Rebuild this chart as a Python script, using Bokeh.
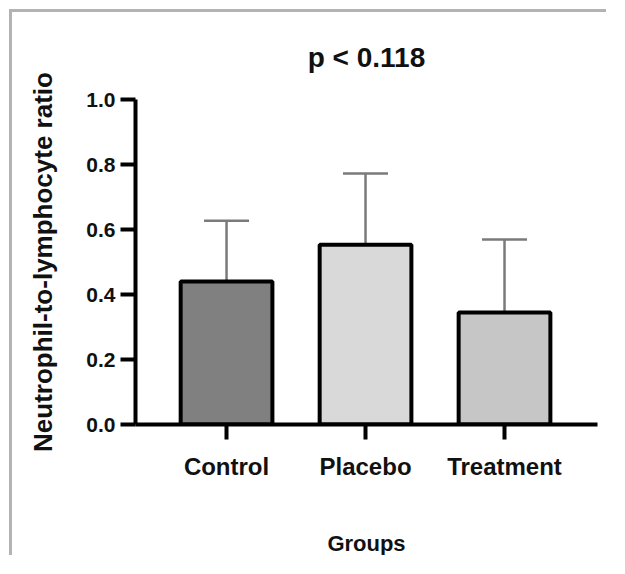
from bokeh.plotting import figure
from bokeh.models import Range1d, FixedTicker, PrintfTickFormatter, Whisker, TeeHead, ColumnDataSource
from bokeh.embed import file_html
from bokeh.resources import INLINE

# ---- data ----
groups = ["Control", "Placebo", "Treatment"]
means = [0.44, 0.553, 0.345]
sds = [0.187, 0.219, 0.224]
colors = ["#808080", "#d9d9d9", "#c6c6c6"]
y_ticks = [0.0, 0.2, 0.4, 0.6, 0.8, 1.0]
title_text = "p < 0.118"
y_label = "Neutrophil-to-lymphocyte ratio"
x_label = "Groups"

FONT = "Liberation Sans, Arial, Helvetica, sans-serif"
xs = list(range(len(groups)))
uppers = [m + s for m, s in zip(means, sds)]
src = ColumnDataSource(dict(x=xs, top=means, upper=uppers, color=colors))

p = figure(width=597, height=546, output_backend="svg", toolbar_location=None,
           x_range=Range1d(-0.655, 2.669), y_range=Range1d(0, 1.0),
           min_border_left=123, min_border_right=12, min_border_top=87,
           min_border_bottom=130)
p.styles = {"margin-left": "9px", "margin-top": "9px",
            "border-left": "3px solid #b3b3b3", "border-top": "3px solid #b3b3b3"}
p.outline_line_color = None
p.grid.visible = False
p.background_fill_color = "white"
p.border_fill_color = "white"

# error bars (upper only), drawn under the bars
w = Whisker(source=src, base="x", lower="top", upper="upper", dimension="height",
            line_color="#7a7a7a", line_width=2.5, level="underlay",
            upper_head=TeeHead(size=45, line_color="#7a7a7a", line_width=2.5),
            lower_head=None)
p.add_layout(w)

p.vbar(x="x", top="top", width=0.66, bottom=0, source=src, fill_color="color",
       line_color="black", line_width=4)

# title
p.title.text = title_text
p.title.align = "center"
p.title.text_font = FONT
p.title.text_font_size = "28px"
p.title.text_font_style = "bold"
p.title.text_color = "#111111"
p.title.standoff = 53

# x axis
xa = p.xaxis[0]
xa.ticker = FixedTicker(ticks=xs)
xa.major_label_overrides = {i: g for i, g in zip(xs, groups)}
xa.axis_line_width = 4
xa.major_tick_line_width = 4
xa.major_tick_out = 15
xa.major_tick_in = 0
xa.minor_tick_line_color = None
xa.major_label_standoff = 13
xa.major_label_text_font = FONT
xa.major_label_text_font_size = "24px"
xa.major_label_text_font_style = "bold"
xa.major_label_text_color = "#111111"
xa.axis_label = x_label
xa.axis_label_text_font = FONT
xa.axis_label_text_font_size = "22px"
xa.axis_label_text_font_style = "bold"
xa.axis_label_text_color = "#111111"
xa.axis_label_standoff = 48

# y axis
ya = p.yaxis[0]
ya.ticker = FixedTicker(ticks=y_ticks)
ya.formatter = PrintfTickFormatter(format="%.1f")
ya.axis_line_width = 4
ya.major_tick_line_width = 4
ya.major_tick_out = 15
ya.major_tick_in = 0
ya.minor_tick_line_color = None
ya.major_label_standoff = 5
ya.major_label_text_font = FONT
ya.major_label_text_font_size = "21px"
ya.major_label_text_font_style = "bold"
ya.major_label_text_color = "#111111"
ya.axis_label = y_label
ya.axis_label_text_font = FONT
ya.axis_label_text_font_size = "26px"
ya.axis_label_text_font_style = "bold"
ya.axis_label_text_color = "#111111"
ya.axis_label_standoff = 25

open("out.html", "w").write(file_html(p, INLINE))
